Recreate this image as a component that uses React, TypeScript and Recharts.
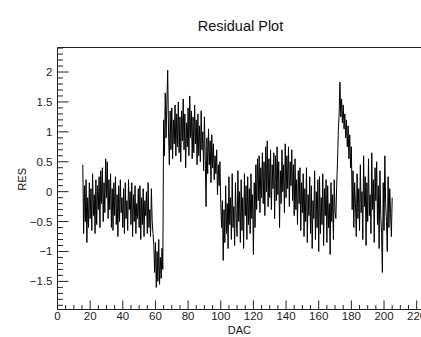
import { LineChart, Line, XAxis, YAxis, ReferenceLine } from 'recharts'

// DAC sampling grid (start + step), residual values
const DAC_START = 15.5
const DAC_STEP = 0.5

const RES_VALUES = [
  // 15.5 - 58.5
  0.45, -0.7, 0.1, -0.5, 0.2, -0.85, -0.1, -0.6, 0.15, -0.45,
  0.05, -0.65, 0.3, -0.4, -0.05, -0.7, 0.2, -0.55, 0.1, -0.3,
  0.25, -0.6, 0.35, -0.2, 0.4, -0.5, 0.15, -0.35, 0.55, -0.1,
  0.5, -0.45, 0.2, -0.3, 0.3, -0.6, 0.05, -0.65, 0.15, -0.4,
  0.25, -0.55, -0.05, -0.75, 0.1, -0.5, 0.2, -0.35, -0.1, -0.6,
  0.05, -0.7, 0.15, -0.45, -0.15, -0.65, 0.2, -0.3, 0.0, -0.55,
  0.15, -0.75, -0.05, -0.5, 0.1, -0.7, -0.2, -0.45, 0.05, -0.6,
  0.1, -0.8, -0.1, -0.55, 0.05, -0.75, -0.15, -0.4, 0.0, -0.7,
  0.15, -0.6, -0.3, -0.75, 0.05, -0.5, -0.7,
  // 59 - 64.5
  -0.9, -1.35, -0.85, -1.6, -1.0, -1.5, -0.8, -1.55, -1.1, -1.45, -0.95, -1.3,
  // 65 - 68
  1.2, 0.6, 1.65, 0.9, 1.5, 2.03, 1.0,
  // 68.5 - 100
  0.45, 1.35, 0.7, 1.4, 0.55, 1.2, 0.8, 1.45, 0.6, 1.3, 0.75, 1.5, 0.65, 1.25,
  0.5, 1.35, 0.85, 1.55, 0.7, 1.3, 0.4, 1.15, 0.75, 1.4,
  0.6, 1.6, 0.9, 1.35, 0.55, 1.25, 0.65, 1.45, 0.8, 1.2,
  0.45, 1.3, 0.6, 1.1, 0.5, 1.35, 0.7, 1.0, 0.35, 1.25,
  0.55, -0.25, 0.9, 0.3, 1.05, 0.45, 0.85, 0.15, 0.95, 0.4,
  0.8, 0.2, 0.6, 0.3, 0.7, -0.05, 0.45, 0.1, 0.5, -0.2,
  // 100.5 - 120
  -0.6, -0.15, -1.15, -0.3, -0.85, 0.1, -0.7, -0.2, -0.95, 0.25,
  -0.55, -0.1, -0.8, 0.3, -0.6, -0.25, -0.9, 0.15, -0.45, -0.75,
  0.35, -0.5, 0.0, -0.85, 0.2, -0.65, -0.1, -0.95, 0.3, -0.4,
  0.1, -0.8, 0.25, -0.55, 0.05, -0.7, 0.3, -0.45, -0.05, -1.05,
  // 120.5 - 150
  0.15, -0.6, 0.45, -0.3, 0.55, -0.15, 0.6, -0.35, 0.4, -0.1,
  0.65, -0.2, 0.5, -0.4, 0.75, 0.0, 0.85, -0.25, 0.55, -0.1,
  0.7, -0.3, 0.45, 0.05, 0.65, -0.45, 0.6, -0.15, 0.75, -0.05,
  0.5, -0.6, 0.35, -0.2, 0.7, 0.0, 0.45, -0.35, 0.8, -0.1,
  0.6, 0.05, 0.75, -0.25, 0.5, 0.1, 0.7, -0.15, 0.45, -0.4,
  0.55, -0.3, 0.2, -0.55, 0.35, -0.2, 0.4, -0.65, 0.15, -0.35,
  // 150.5 - 170
  0.3, -0.75, 0.05, -0.5, 0.4, -0.85, -0.05, -0.4, 0.25, -0.7,
  0.1, -0.95, -0.15, -0.45, 0.35, -0.8, 0.0, -0.6, 0.2, -1.0,
  0.25, -0.7, -0.1, -0.55, 0.3, -0.9, 0.05, -0.4, 0.2, -0.85,
  0.1, -0.6, -0.2, -1.05, 0.15, -0.5, -0.05, -0.8, 0.2, -0.35,
  // 170.5 - 180
  -0.45, 0.1, 0.5, 1.0, 1.3, 1.83, 1.25, 1.55, 1.15, 1.45,
  1.05, 1.3, 0.9, 1.2, 0.75, 1.1, 0.55, 0.95, 0.4, 0.75,
  // 180.5 - 205
  -0.3, 0.35, -0.6, 0.15, -0.2, -0.75, 0.3, -0.45, 0.05, -0.65,
  0.45, -0.35, 0.0, -0.8, 0.6, -0.25, 0.25, -0.9, 0.15, -0.5,
  0.55, -0.4, -0.05, -0.7, 0.65, -0.3, 0.2, -0.85, 0.4, -0.15,
  0.5, -0.55, 0.1, -0.95, 0.35, -0.4, -0.7, -1.35, 0.15, -0.65,
  0.6, -0.2, -0.5, -1.0, 0.25, -0.6, 0.05, -0.35, -0.75, -0.1,
]

const X_DOMAIN = [0, 230]
const Y_DOMAIN = [-1.97, 2.41]
const X_MAJOR = [0, 20, 40, 60, 80, 100, 120, 140, 160, 180, 200, 220]
const Y_MAJOR = [-1.5, -1, -0.5, 0, 0.5, 1, 1.5, 2]

const data = RES_VALUES.map((res, i) => ({ dac: DAC_START + i * DAC_STEP, res }))

const xTicks: number[] = []
for (let v = 0; v <= 225; v += 5) xTicks.push(v)
const yTicks: number[] = []
for (let k = -19; k <= 24; k++) yTicks.push(k / 10)

const AXIS = '#222'
const FONT = '"Liberation Sans", Arial, sans-serif'

function fmt(v: number) {
  return v < 0 ? '\u2212' + String(-v) : String(v)
}

function XTick({ x, y, payload }: any) {
  const v = payload.value
  const major = X_MAJOR.includes(v)
  return (
    <g>
      <line x1={x} x2={x} y1={y} y2={y - (major ? 9 : 4.5)} stroke={AXIS} />
      {major && (
        <text x={x} y={y + 10.5} textAnchor="middle" fontSize={11.5} fill="#222" fontFamily={FONT}>
          {v}
        </text>
      )}
    </g>
  )
}

function YTick({ x, y, payload }: any) {
  const v = payload.value
  const major = Y_MAJOR.some((m) => Math.abs(m - v) < 1e-6)
  return (
    <g>
      <line x1={x} x2={x + (major ? 11 : 5.5)} y1={y} y2={y} stroke={AXIS} />
      {major && (
        <text x={x - 5} y={y + 4} textAnchor="end" fontSize={11.5} fill="#222" fontFamily={FONT}>
          {fmt(v)}
        </text>
      )}
    </g>
  )
}

export default function App() {
  return (
    <div style={{ position: 'fixed', left: 0, top: 0, width: 421, height: 337, overflow: 'hidden', background: '#fff' }}>
      <LineChart
        width={440}
        height={337}
        data={data}
        margin={{ top: 47.5, left: 0, right: 7, bottom: 0 }}
      >
        <XAxis
          type="number"
          dataKey="dac"
          domain={X_DOMAIN}
          ticks={xTicks}
          interval={0}
          height={27.5}
          tickSize={0}
          tickMargin={0}
          tickLine={false}
          axisLine={{ stroke: AXIS }}
          tick={<XTick />}
        />
        <YAxis
          type="number"
          domain={Y_DOMAIN}
          ticks={yTicks}
          interval={0}
          width={57.5}
          tickSize={0}
          tickMargin={0}
          tickLine={false}
          axisLine={{ stroke: AXIS }}
          tick={<YTick />}
          allowDataOverflow
        />
        <ReferenceLine y={Y_DOMAIN[1]} stroke={AXIS} />
        <Line
          type="linear"
          dataKey="res"
          stroke="#000"
          strokeWidth={1}
          dot={false}
          isAnimationActive={false}
        />
        <text x={240.5} y={31} textAnchor="middle" fontSize={14.5} fill="#111" fontFamily={FONT}>
          Residual Plot
        </text>
        <text x={251} y={334} textAnchor="end" fontSize={11} fill="#111" fontFamily={FONT}>
          DAC
        </text>
        <text
          x={26}
          y={168}
          textAnchor="end"
          fontSize={11}
          fill="#111"
          fontFamily={FONT}
          transform="rotate(-90 26 168)"
        >
          RES
        </text>
      </LineChart>
    </div>
  )
}
